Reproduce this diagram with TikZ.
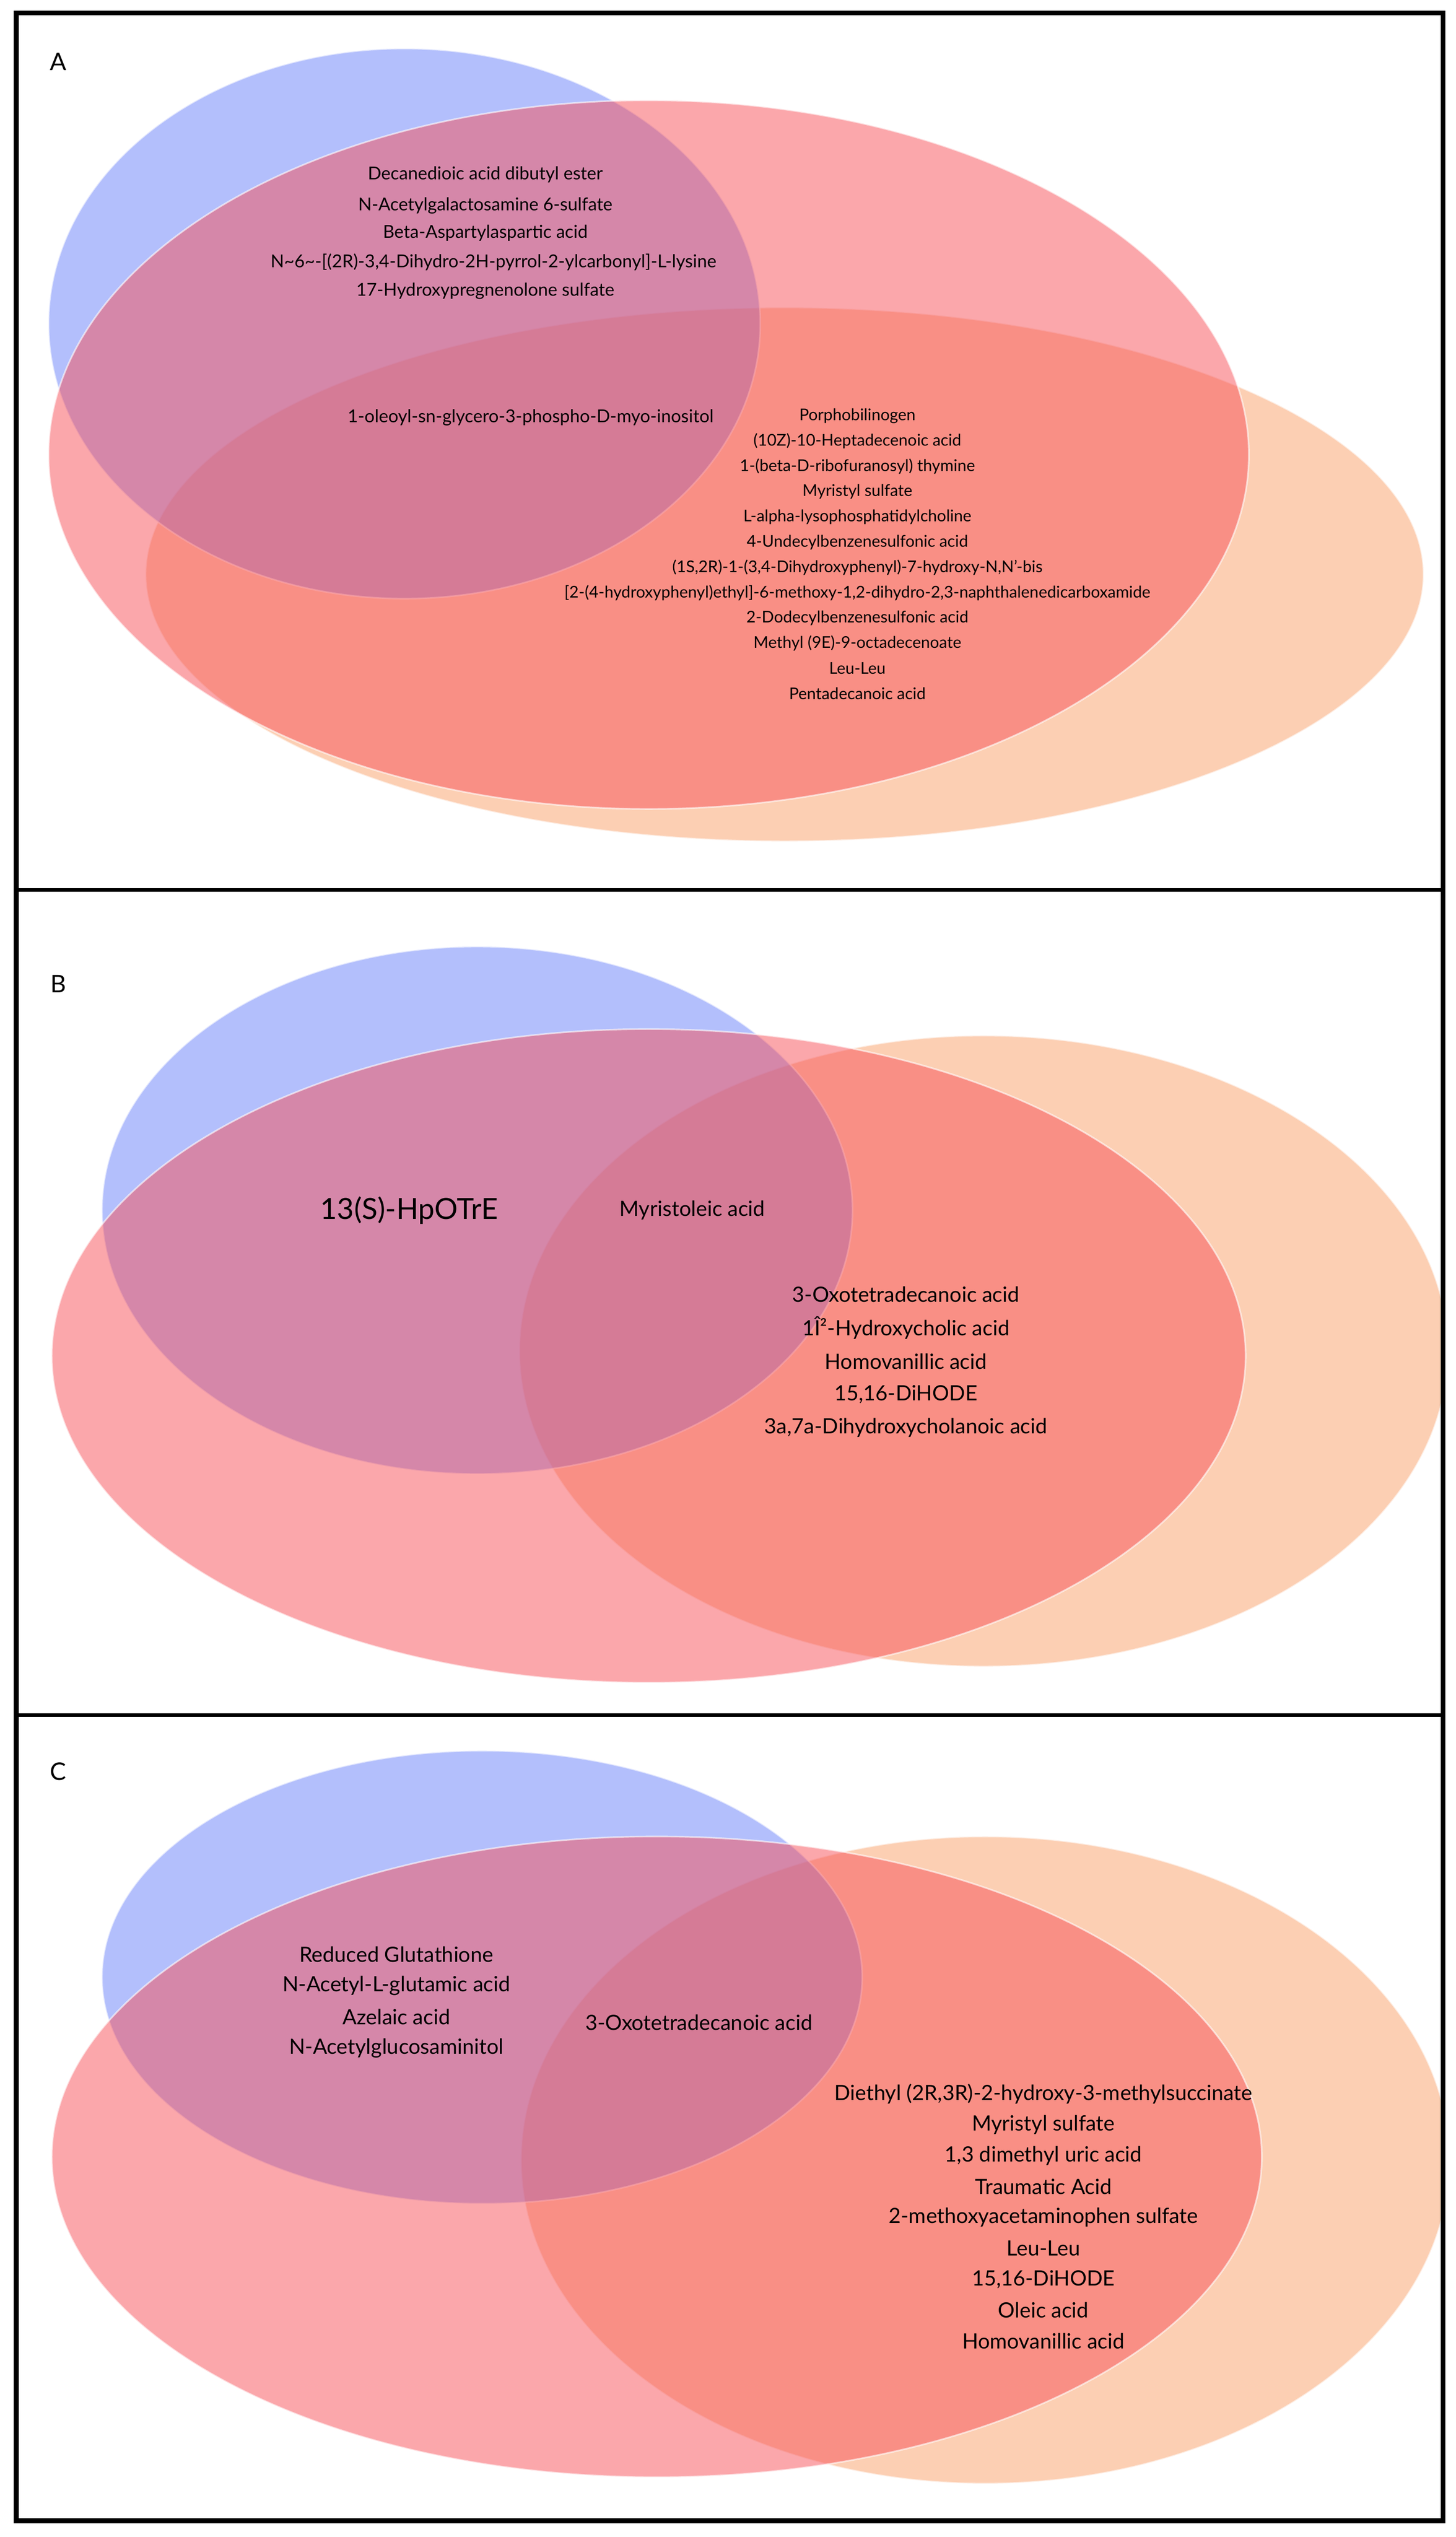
\documentclass[tikz,border=0pt]{standalone}
\usepackage{fontspec}
\setmainfont{Lato}
\definecolor{vb}{RGB}{105,128,250}
\definecolor{vr}{RGB}{248,80,88}
\definecolor{vo}{RGB}{251,160,105}
\begin{document}
\begin{tikzpicture}[x=1pt,y=-1pt,
  bl/.style={fill=vb,fill opacity=0.5,draw=white,draw opacity=0.6,line width=1},
  rd/.style={fill=vr,fill opacity=0.5,draw=white,draw opacity=0.6,line width=1},
  og/.style={fill=vo,fill opacity=0.5,draw=white,draw opacity=0.6,line width=1},
  sa/.style={font=\fontsize{11}{12}\selectfont,align=center,inner sep=0},
  sb/.style={font=\fontsize{10}{11}\selectfont,align=center,inner sep=0},
  mb/.style={font=\fontsize{13}{14}\selectfont,align=center,inner sep=0},
  lab/.style={font=\fontsize{15}{16}\selectfont,inner sep=0}]
\useasboundingbox (0,0) rectangle (900,1568);
\fill[white] (0,0) rectangle (900,1568);
% Panel A
\begin{scope}
\clip (10,8) rectangle (892,550);
\fill[og] (485,355) ellipse [x radius=395,y radius=165];
\fill[bl] (250,200) ellipse [x radius=220,y radius=170];
\fill[rd] (401,281) ellipse [x radius=371,y radius=219];
\end{scope}
\node[lab] (la) at (36,38) {A};
\node[sa] (a1) at (300,108) {Decanedioic acid dibutyl ester};
\node[sa] (a2) at (300,127) {N-Acetylgalactosamine 6-sulfate};
\node[sa] (a3) at (300,144) {Beta-Aspartylaspartic acid};
\node[sa] (a4) at (305,162) {N\textasciitilde6\textasciitilde-[(2R)-3,4-Dihydro-2H-pyrrol-2-ylcarbonyl]-L-lysine};
\node[sa] (a5) at (300,180) {17-Hydroxypregnenolone sulfate};
\node[sa] (a6) at (328,258) {1-oleoyl-sn-glycero-3-phospho-D-myo-inositol};
\foreach \t [count=\i] in {Porphobilinogen,(10Z)-10-Heptadecenoic acid,1-(beta-D-ribofuranosyl) thymine,Myristyl sulfate,L-alpha-lysophosphatidylcholine,4-Undecylbenzenesulfonic acid,{(1S,2R)-1-(3,4-Dihydroxyphenyl)-7-hydroxy-N,N'-bis},{[2-(4-hydroxyphenyl)ethyl]-6-methoxy-1,2-dihydro-2,3-naphthalenedicarboxamide},2-Dodecylbenzenesulfonic acid,Methyl (9E)-9-octadecenoate,Leu-Leu,Pentadecanoic acid}
  \node[sb] (ar\i) at (530,241.5+15.6*\i) {\t};
% Panel B
\begin{scope}
\clip (10,550) rectangle (892,1060);
\fill[og] (608,835) ellipse [x radius=287,y radius=195];
\fill[bl] (295,748) ellipse [x radius=232,y radius=163];
\fill[rd] (401,838) ellipse [x radius=369,y radius=202];
\end{scope}
\node[lab] (lb) at (36,608) {B};
\node[font=\fontsize{18}{20}\selectfont,inner sep=0] (b1) at (253,748) {13(S)-HpOTrE};
\node[mb] (b2) at (428,748) {Myristoleic acid};
\foreach \t [count=\i] in {3-Oxotetradecanoic acid,1Î²-Hydroxycholic acid,Homovanillic acid,{15,16-DiHODE},{3a,7a-Dihydroxycholanoic acid}}
  \node[mb] (br\i) at (560,779.5+20.6*\i) {\t};
% Panel C
\begin{scope}
\clip (10,1060) rectangle (892,1558);
\fill[og] (609,1335) ellipse [x radius=287,y radius=200];
\fill[bl] (298,1222) ellipse [x radius=235,y radius=140];
\fill[rd] (406,1333) ellipse [x radius=374,y radius=198];
\end{scope}
\node[lab] (lc) at (36,1095) {C};
\foreach \t [count=\i] in {Reduced Glutathione,N-Acetyl-L-glutamic acid,Azelaic acid,N-Acetylglucosaminitol}
  \node[mb] (cl\i) at (245,1188.7+19.3*\i) {\t};
\node[mb] (c0) at (432,1250) {3-Oxotetradecanoic acid};
\foreach \t [count=\i] in {{Diethyl (2R,3R)-2-hydroxy-3-methylsuccinate},Myristyl sulfate,{1,3 dimethyl uric acid},Traumatic Acid,2-methoxyacetaminophen sulfate,Leu-Leu,{15,16-DiHODE},Oleic acid,Homovanillic acid}
  \node[mb] (cr\i) at (645,1275+19.1*\i) {\t};
% Frame
\draw[line width=3] (10,8) rectangle (892,1558);
\draw[line width=2] (10,550) -- (892,550);
\draw[line width=2] (10,1060) -- (892,1060);
\end{tikzpicture}
\end{document}
